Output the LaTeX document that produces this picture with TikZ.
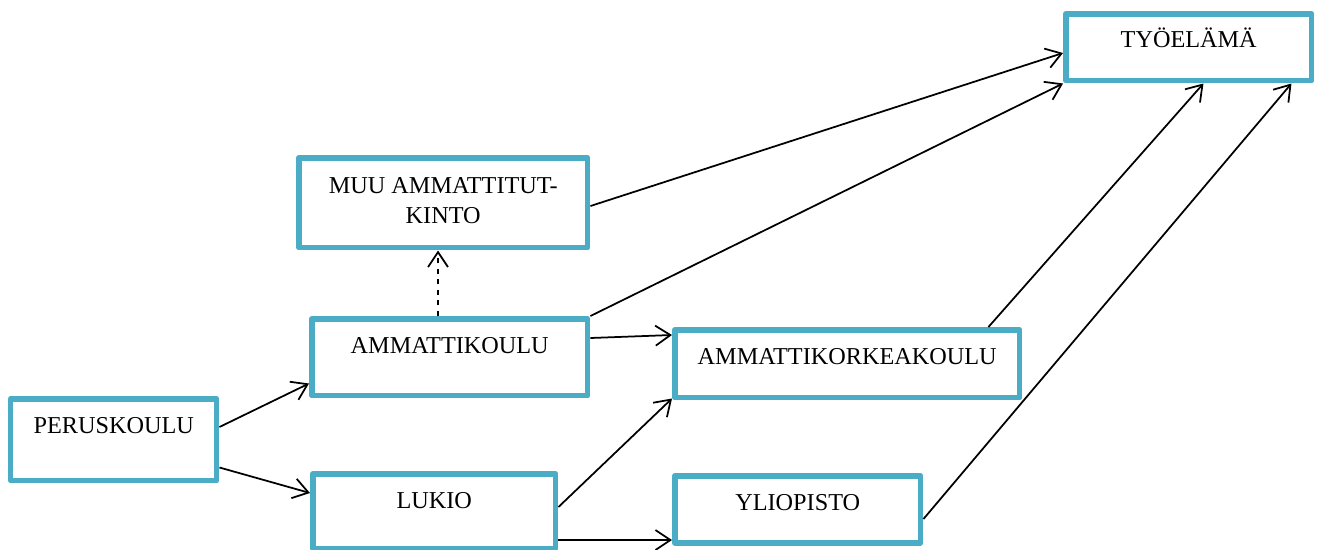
\documentclass[tikz,border=0pt]{standalone}
\usepackage{fontspec}
\setmainfont{Liberation Serif}
\usetikzlibrary{arrows.meta,calc}
\definecolor{boxblue}{HTML}{4BACC6}
\tikzset{school/.style={rectangle,draw=boxblue,line width=0.11cm,line join=round,anchor=north west,inner xsep=0pt,inner ysep=0pt,text height=0.69cm,align=center,font=\fontsize{13.8}{17}\selectfont}}
\tikzset{path/.style={line width=0.035cm,-{Straight Barb[length=0.3cm,width=0.4cm]}}}

\begin{document}
\begin{tikzpicture}[x=0.02cm,y=-0.02cm]
    \useasboundingbox (0,0) rectangle (1317,549);
    \node[school,minimum width=4.12cm,text depth=0.95cm] (perus) at (8,396) {PERUSKOULU};
    \node[school,minimum width=5.52cm,text depth=0.85cm] (ammk) at (309,316) {AMMATTIKOULU};
    \node[school,minimum width=4.86cm,text depth=0.8cm] (lukio) at (310,471) {LUKIO};
    \node[school,minimum width=5.78cm,text height=1.31cm,text depth=0.49cm] (muu) at (296,155) {MUU AMMATTITUT-\\KINTO};
    \node[school,minimum width=6.9cm,text depth=0.67cm] (amkk) at (672,327) {AMMATTIKORKEAKOULU};
    \node[school,minimum width=4.92cm,text depth=0.65cm] (ylio) at (672,473) {YLIOPISTO};
    \node[school,minimum width=4.92cm,text height=0.67cm,text depth=0.67cm] (tyo) at (1063,11) {TYÖELÄMÄ};
    \draw[path] ($(perus.north east)+(0,31)$) -- ($(ammk.south west)+(0,-15)$);
    \draw[path] ($(perus.south east)+(0,-16)$) -- ($(lukio.north west)+(0,22)$);
    \draw[path,dashed] ($(ammk.north west)+(129,0)$) -- ($(muu.south west)+(142,0)$);
    \draw[path] ($(ammk.north east)+(0,22)$) -- ($(amkk.north west)+(0,8)$);
    \draw[path] ($(lukio.north east)+(0,36)$) -- ($(amkk.south west)+(0,-2)$);
    \draw[path] ($(lukio.north east)+(0,69)$) -- ($(ylio.north west)+(0,67)$);
    \draw[path] ($(muu.north east)+(0,51)$) -- ($(tyo.north west)+(0,42)$);
    \draw[path] (ammk.north east) -- (tyo.south west);
    \draw[path] ($(amkk.north east)+(-34,0)$) -- ($(tyo.south east)+(-111,0)$);
    \draw[path] ($(ylio.north east)+(0,46)$) -- ($(tyo.south east)+(-23,0)$);
\end{tikzpicture}
\end{document}
